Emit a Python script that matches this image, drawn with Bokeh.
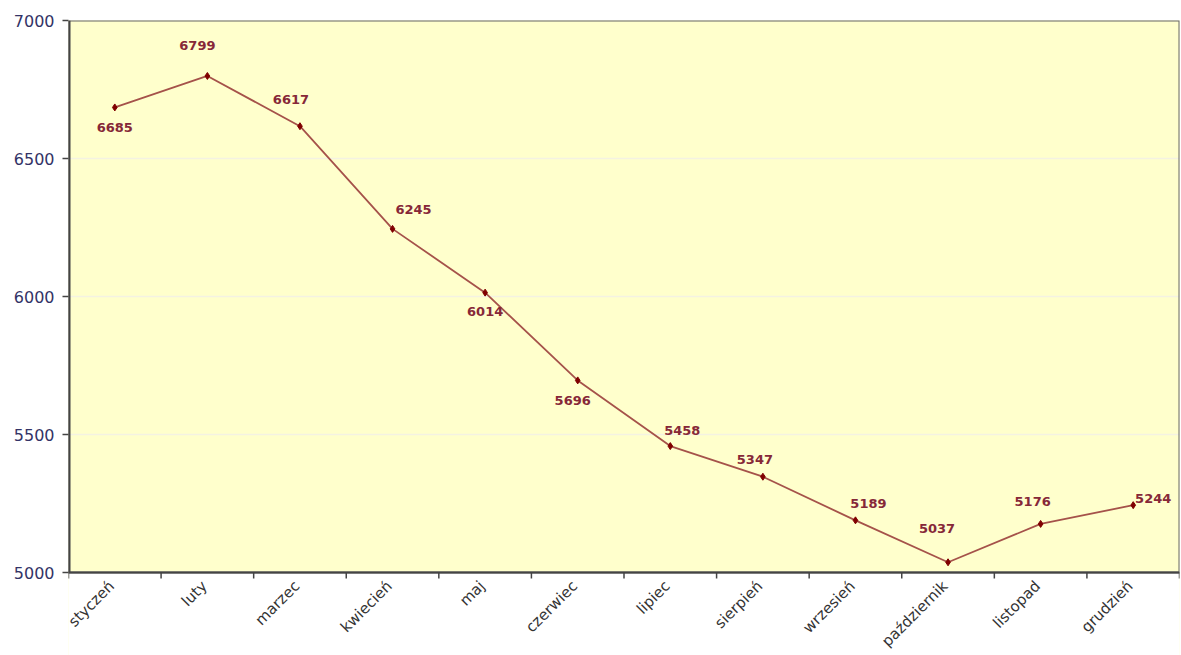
import math
from bokeh.plotting import figure
from bokeh.models import ColumnDataSource, FixedTicker, Range1d
from bokeh.core.properties import value
from bokeh.embed import file_html
from bokeh.resources import INLINE

months = ["styczeń", "luty", "marzec", "kwiecień", "maj", "czerwiec",
          "lipiec", "sierpień", "wrzesień", "październik", "listopad", "grudzień"]
values = [6685, 6799, 6617, 6245, 6014, 5696, 5458, 5347, 5189, 5037, 5176, 5244]
y_ticks = [5000, 5500, 6000, 6500, 7000]

# label offsets in screen pixels (style only): dx right, dy up
label_dx = [0, -10, -9, 21, 0, -5, 12, -8, 13, -11, -8, 20]
label_dy = [-20, 30, 27, 19, -19, -20, 16, 17, 17, 34, 22, 7]

# layout (pixels)
W, H = 1181, 655
TOP, LEFT, RIGHT = 20, 68, 2
PLOT_H = 552          # height of the yellow plot area
y_min, y_max = y_ticks[0], y_ticks[-1]
px_per_unit = PLOT_H / (y_max - y_min)
y_lo = y_min - (H - TOP - PLOT_H) / px_per_unit   # extend frame down to hold category labels

n = len(months)
xs = [i + 0.5 for i in range(n)]

src = ColumnDataSource(dict(
    x=xs, y=values, lab=[str(v) for v in values],
    dx=label_dx, dy=[-d for d in label_dy],
))
cat_src = ColumnDataSource(dict(x=xs, y=[y_min] * n, name=months))
tick_src = ColumnDataSource(dict(x=list(range(n + 1)), y=[y_min] * (n + 1)))

p = figure(width=W, height=H, output_backend="svg", toolbar_location=None,
           x_range=Range1d(0, n), y_range=Range1d(y_lo, y_max),
           x_axis_location=None,
           min_border_left=LEFT, min_border_right=RIGHT, min_border_top=TOP, min_border_bottom=0)

p.background_fill_color = "#FFFFCC"
p.border_fill_color = "white"
p.outline_line_color = None

# grid
p.xgrid.grid_line_color = None
p.ygrid.ticker = FixedTicker(ticks=y_ticks)
p.ygrid.grid_line_color = "#F4F2E2"
p.ygrid.grid_line_width = 1.5

# white area below the plot (holds the category labels)
p.quad(left=-1, right=n + 1, bottom=y_lo - 100, top=y_min, fill_color="white", line_color=None)

# plot-area border and axis lines
p.quad(left=0, right=n, bottom=y_min, top=y_max, fill_color=None,
       line_color="#666666", line_width=2)
p.segment(x0=[0], y0=[y_min], x1=[0], y1=[y_max], line_color="#444444", line_width=4)
p.segment(x0=[0], y0=[y_min], x1=[n], y1=[y_min], line_color="#444444", line_width=2)

# x tick marks at category boundaries
p.ray(x="x", y="y", source=tick_src, length=6, length_units="screen",
      angle=-math.pi / 2, line_color="#444444", line_width=1.5)

# category labels
p.text("x", "y", text="name", source=cat_src, x_offset=-3, y_offset=11,
       angle=math.pi / 4, text_align="right", text_baseline="middle",
       text_font=value("DejaVu Sans"), text_font_size="15px", text_color="#333333")

# data
p.line("x", "y", source=src, line_color="#A5524A", line_width=1.8)
p.scatter("x", "y", source=src, marker="diamond", size=7, color="#800000")
p.text("x", "y", text="lab", source=src, x_offset="dx", y_offset="dy",
       text_align="center", text_baseline="middle",
       text_font=value("DejaVu Sans"), text_font_size="13px", text_font_style="bold",
       text_color="#862838")

# y axis
p.yaxis.ticker = FixedTicker(ticks=y_ticks)
p.yaxis.axis_line_color = None
p.yaxis.major_tick_line_color = "#444444"
p.yaxis.major_tick_line_width = 1.5
p.yaxis.major_tick_out = 6
p.yaxis.major_tick_in = 0
p.yaxis.minor_tick_line_color = None
p.yaxis.major_label_text_font = "DejaVu Sans"
p.yaxis.major_label_text_font_size = "16px"
p.yaxis.major_label_text_color = "#333366"
p.yaxis.major_label_standoff = 8

open("out.html", "w").write(file_html(p, INLINE))
